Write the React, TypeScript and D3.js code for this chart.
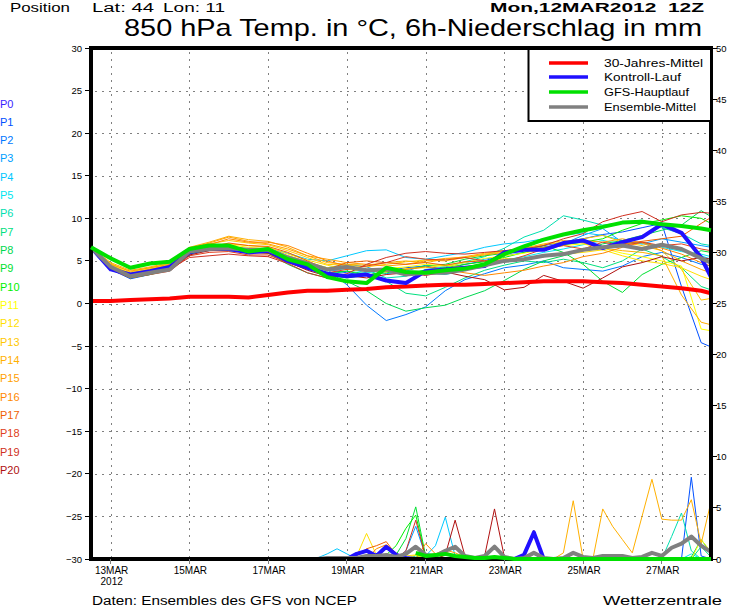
import React from 'react';
import * as d3 from 'd3';

// ---------- time base ----------
const RUN_START = Date.UTC(2012, 2, 12, 12); // Mon 12MAR2012 12Z
const HOUR = 3600 * 1000;
const LAST_HOUR = 378;

// ---------- categories ----------
const tempHours = [0, 12, 24, 36, 48, 60, 72, 84, 96, 108, 120, 132, 144, 156, 168, 180, 192, 204, 216, 228, 240, 252, 264, 276, 288, 300, 312, 324, 336, 348, 360, 372, 378];
const precipHours = [138, 144, 150, 156, 162, 168, 174, 180, 186, 192, 198, 204, 210, 216, 222, 228, 234, 240, 246, 252, 258, 264, 270, 276, 282, 288, 294, 300, 306, 312, 318, 324, 330, 336, 342, 348, 354, 360, 366, 372, 378];
const dayTickDates = [13, 15, 17, 19, 21, 23, 25, 27];
const dayTickLabels = ['13MAR', '15MAR', '17MAR', '19MAR', '21MAR', '23MAR', '25MAR', '27MAR'];
const tempTicks = [-30, -25, -20, -15, -10, -5, 0, 5, 10, 15, 20, 25, 30];
const precipTicks = [0, 5, 10, 15, 20, 25, 30, 35, 40, 45, 50];

const memberNames = ['P0', 'P1', 'P2', 'P3', 'P4', 'P5', 'P6', 'P7', 'P8', 'P9', 'P10', 'P11', 'P12', 'P13', 'P14', 'P15', 'P16', 'P17', 'P18', 'P19', 'P20'];
const memberColors = ['#3a1eff', '#0050ff', '#0078ff', '#00a0ff', '#00c8ff', '#00e6f0', '#00e0b0', '#00e080', '#00d850', '#00e030', '#00f000', '#ffff00', '#ffe000', '#ffc800', '#ffb000', '#ffa000', '#ff8800', '#f06000', '#e04020', '#d03020', '#b01010'];

// ---------- thick series (temperature, °C) ----------
const climate = [0.3, 0.3, 0.4, 0.5, 0.6, 0.8, 0.8, 0.8, 0.7, 1.0, 1.3, 1.5, 1.5, 1.6, 1.7, 1.9, 2.0, 2.1, 2.2, 2.2, 2.3, 2.4, 2.5, 2.6, 2.6, 2.6, 2.5, 2.4, 2.2, 2.0, 1.8, 1.5, 1.2];
const control = [6.6, 4.0, 3.4, 3.8, 4.3, 6.0, 6.5, 6.4, 6.0, 6.2, 5.0, 4.2, 3.5, 3.2, 3.4, 2.7, 2.4, 3.8, 4.0, 4.2, 4.4, 6.0, 6.3, 6.3, 7.1, 7.4, 6.5, 7.2, 7.8, 9.3, 8.3, 5.4, 3.1];
const gfsMain = [6.6, 5.3, 4.2, 4.7, 4.9, 6.4, 6.8, 6.8, 6.1, 6.4, 5.2, 4.6, 3.1, 2.6, 2.4, 4.2, 3.7, 3.6, 3.9, 4.1, 4.6, 5.8, 6.7, 7.5, 8.1, 8.6, 9.0, 9.5, 9.6, 9.3, 9.1, 8.8, 8.6];
const ensMean = [6.6, 4.3, 3.2, 3.6, 4.0, 6.1, 6.4, 6.5, 6.3, 6.3, 5.4, 4.7, 4.0, 4.3, 3.9, 4.0, 3.4, 3.6, 3.6, 4.0, 4.5, 5.0, 5.2, 5.6, 5.8, 6.3, 6.6, 6.8, 6.4, 6.9, 6.4, 5.3, 4.8];

// ---------- members (temperature, °C) ----------
const p1 = [6.6, 4.0, 2.9, 3.4, 4.1, 5.8, 6.6, 6.3, 6.0, 6.6, 5.6, 4.9, 4.0, 3.6, 3.3, 3.8, 4.2, 4.4, 4.0, 4.6, 5.0, 5.8, 6.3, 6.8, 7.2, 7.6, 8.1, 8.4, 8.9, 9.4, 2.0, -4.6, -5.1];
const p2 = [6.6, 4.2, 3.0, 3.5, 3.9, 6.1, 6.2, 6.8, 6.1, 6.0, 5.0, 4.5, 4.0, 2.2, -0.2, -2.0, -1.3, -0.4, 1.5, 2.8, 3.5, 4.2, 4.5, 5.0, 4.2, 4.0, 3.8, 4.4, 5.5, 6.0, 5.4, 4.6, 4.4];
const p3 = [6.6, 4.4, 3.3, 3.8, 4.3, 6.2, 6.5, 6.6, 6.2, 6.4, 5.5, 4.8, 4.2, 4.6, 4.3, 3.5, 3.8, 4.5, 4.4, 4.8, 5.2, 5.6, 6.0, 6.6, 7.0, 8.0, 8.8, 7.2, 7.0, 7.6, 7.2, 6.8, 6.6];
const p4 = [6.6, 4.5, 3.4, 3.9, 4.2, 6.3, 6.9, 6.7, 6.4, 6.5, 5.9, 5.2, 5.0, 5.6, 6.2, 6.3, 5.4, 5.2, 5.6, 6.0, 6.6, 7.0, 7.2, 7.6, 8.0, 8.3, 8.0, 7.4, 7.0, 6.8, 6.2, 5.6, 5.2];
const p5 = [6.6, 4.1, 3.1, 3.5, 4.0, 5.9, 6.3, 6.4, 6.2, 6.1, 5.2, 4.6, 3.8, 4.1, 3.6, 3.9, 3.3, 3.6, 3.4, 3.9, 4.5, 5.1, 5.5, 6.0, 6.4, 6.9, 7.4, 7.0, 7.2, 6.6, 6.1, 5.8, 5.5];
const p6 = [6.6, 4.2, 3.3, 3.7, 4.1, 6.0, 6.6, 6.5, 6.4, 6.2, 5.3, 4.4, 3.9, 4.4, 4.0, 3.0, 3.2, 4.0, 4.3, 4.9, 5.5, 6.5, 7.8, 8.6, 10.3, 9.8, 9.2, 9.5, 9.8, 8.9, 8.2, 7.0, 6.8];
const p7 = [6.6, 4.3, 3.2, 3.6, 3.9, 5.8, 6.3, 6.2, 6.0, 6.0, 5.0, 4.3, 3.4, 3.8, 3.5, 2.6, 1.2, 0.9, 1.9, 3.0, 3.9, 4.5, 5.0, 4.8, 5.2, 4.8, 4.2, 5.0, 6.4, 5.5, 4.2, 2.0, 1.6];
const p8 = [6.6, 4.2, 3.1, 3.5, 4.0, 6.0, 6.3, 6.4, 6.1, 5.9, 4.6, 3.6, 3.0, 2.6, 1.5, 0.0, -0.9, -0.5, -0.2, 0.7, 1.5, 2.7, 4.0, 5.0, 5.6, 6.2, 7.0, 7.4, 8.0, 8.6, 9.2, 10.9, 10.2];
const p9 = [6.6, 4.4, 3.3, 3.8, 4.2, 6.1, 6.6, 6.6, 6.2, 6.1, 5.2, 4.5, 3.6, 3.8, 3.3, 3.6, 4.0, 4.4, 4.6, 5.2, 5.6, 5.9, 6.3, 6.8, 6.0, 4.6, 2.6, 1.3, 3.4, 4.6, 5.4, 6.2, 6.0];
const p10 = [6.6, 4.1, 3.0, 3.4, 3.9, 5.9, 6.4, 6.3, 6.1, 6.2, 5.1, 4.2, 3.3, 3.0, 3.3, 3.8, 3.5, 3.9, 4.2, 4.6, 4.9, 5.4, 6.0, 6.6, 6.9, 7.2, 7.6, 8.6, 9.4, 9.8, 10.3, 10.0, 9.4];
const p11 = [6.6, 4.6, 3.5, 4.0, 4.3, 6.3, 6.7, 6.9, 6.6, 6.4, 5.6, 4.9, 4.2, 4.3, 4.0, 4.1, 4.3, 4.6, 4.4, 4.8, 5.3, 5.6, 5.9, 6.4, 6.8, 7.0, 6.5, 5.9, 5.5, 5.0, 4.4, -3.0, -3.2];
const p12 = [6.6, 4.5, 3.6, 4.1, 4.5, 6.4, 6.8, 7.0, 6.8, 6.6, 5.8, 5.1, 4.5, 4.0, 3.8, 3.7, 4.1, 4.2, 4.5, 4.3, 4.7, 5.3, 5.2, 5.5, 5.8, 6.0, 6.3, 5.6, 5.0, 4.7, 4.2, 3.2, 2.8];
const p13 = [6.6, 4.7, 3.7, 4.2, 4.7, 6.5, 7.0, 7.4, 7.1, 6.9, 6.2, 5.4, 4.6, 4.5, 4.3, 4.6, 4.9, 5.1, 5.0, 5.4, 5.8, 6.1, 6.4, 6.9, 7.2, 7.6, 8.0, 7.2, 6.8, 6.2, 4.0, 0.4, 0.6];
const p14 = [6.6, 4.8, 3.9, 4.3, 4.8, 6.6, 7.2, 7.9, 7.5, 7.3, 6.6, 5.6, 4.8, 4.6, 4.5, 4.8, 5.0, 4.8, 5.2, 5.5, 5.9, 6.2, 6.5, 7.0, 7.4, 7.1, 6.5, 6.2, 6.0, 5.6, 1.0, -2.2, -2.5];
const p15 = [6.6, 4.6, 3.8, 4.2, 4.6, 6.5, 7.1, 7.8, 7.3, 7.0, 6.4, 5.6, 5.2, 4.8, 4.6, 4.4, 4.6, 5.0, 5.3, 5.4, 5.7, 6.0, 6.3, 6.6, 7.0, 7.4, 7.2, 7.6, 7.1, 6.2, 5.0, 4.0, 3.6];
const p16 = [6.6, 4.4, 3.5, 4.0, 4.5, 6.2, 6.9, 7.6, 7.2, 7.2, 6.8, 5.9, 5.0, 4.4, 4.0, 3.8, 4.0, 4.3, 4.0, 3.6, 3.3, 3.6, 3.9, 4.4, 4.8, 5.5, 5.9, 6.6, 7.2, 6.5, 5.8, 4.8, 4.4];
const p17 = [6.6, 4.3, 3.3, 3.8, 4.4, 6.1, 6.6, 7.1, 6.8, 6.7, 6.0, 5.0, 4.0, 4.8, 5.0, 4.8, 4.6, 4.8, 4.5, 4.9, 5.0, 5.1, 5.2, 5.5, 5.9, 6.2, 6.5, 7.0, 7.3, 7.6, 7.9, 9.4, 10.1];
const p18 = [6.6, 4.0, 3.0, 3.4, 3.8, 5.6, 6.0, 6.1, 5.7, 5.7, 4.8, 4.0, 3.6, 4.0, 4.4, 4.8, 5.5, 5.2, 5.1, 5.4, 5.0, 4.9, 5.6, 6.4, 6.8, 6.4, 7.2, 6.8, 7.2, 6.8, 7.0, 6.4, 6.2];
const p19 = [6.6, 4.1, 3.2, 3.6, 4.0, 5.4, 5.6, 5.8, 5.6, 5.5, 4.7, 3.6, 3.0, 3.5, 4.6, 5.4, 5.9, 6.1, 5.9, 5.8, 6.0, 6.2, 6.4, 6.8, 7.6, 8.2, 9.6, 10.3, 10.8, 9.6, 10.4, 10.7, 10.6];
const p20 = [6.6, 4.2, 3.1, 3.5, 3.9, 5.7, 6.2, 6.3, 6.0, 5.9, 4.9, 3.9, 3.2, 3.3, 3.0, 3.4, 3.6, 3.3, 3.7, 3.2, 2.8, 1.6, 1.9, 3.3, 2.6, 1.8, 3.0, 4.3, 4.8, 5.5, 5.0, 5.4, 5.2];
const memberTemps = [control, p1, p2, p3, p4, p5, p6, p7, p8, p9, p10, p11, p12, p13, p14, p15, p16, p17, p18, p19, p20];

// ---------- 6h precipitation (mm), from 18MAR 06Z ----------
const rControl = [0, 0, 0, 0, 0.5, 0.8, 0.3, 1.2, 0.4, 0.1, 0, 0, 0, 0, 0, 0, 0, 0, 0, 0, 0, 0.4, 2.6, 0, 0, 0, 0, 0, 0, 0, 0, 0, 0, 0, 0, 0, 0, 0, 0, 0, 0];
const rMean = [0, 0.1, 0.1, 0.1, 0.1, 0.3, 0.3, 0.4, 0.2, 0.5, 1.2, 0.4, 0.3, 0.8, 1.2, 0.3, 0.1, 0.3, 1.2, 0.2, 0, 0.1, 0.6, 0.1, 0, 0.1, 0.6, 0.2, 0.1, 0.3, 0.3, 0.3, 0.1, 0.2, 0.6, 0.3, 1.1, 1.5, 2.2, 1.3, 0.7];
const rGfs = [null, null, null, null, null, null, null, null, null, null, 0.6, 0.3, 0.4, 0.5, 0.3, 0.2, 0.1, 0.1, 0.2, 0.1, 0, 0, 0, 0, 0, 0, 0, 0, 0, 0, 0, 0, 0, 0, 0, 0, 0, 0, 0, 0, 0];
const r1 = [0, 0, 0, 0, 0, 0, 0, 0, 0, 0, 0, 0, 0, 0, 0, 0, 0, 0, 0, 0, 0, 0, 0, 0, 0, 0, 0, 0, 0, 0, 0, 0, 0, 0, 0, 0, 0, 0, 8.0, 0.3, 0];
const r2 = [0, 0, 0, 0, 0, 0, 0, 0, 0.3, 0, 0, 0, 0, 0, 0, 0, 0, 0, 0, 0, 0, 0, 0, 0, 0, 0, 0, 0, 0, 0, 0, 0, 0, 0, 0, 0, 0, 0, 0, 0, 0];
const r3 = [0, 0, 0, 0, 0, 0, 0, 0, 0, 0.8, 3.2, 0.3, 0, 0, 0, 0, 0, 0, 0, 0, 0, 0, 0, 0, 0, 0, 0, 0, 0, 0, 0, 0, 0, 0, 0, 0, 0, 0, 0, 0, 0];
const r4 = [0.1, 0.5, 1.0, 0.5, 0, 0, 0, 0, 0, 0, 0, 0.3, 1.3, 4.1, 0.3, 0, 0, 0, 0, 0, 0, 0, 0, 0, 0, 0, 0, 0, 0, 0, 0, 0, 0, 0, 0, 0, 0, 0, 0, 0, 0];
const r5 = [0, 0, 0, 0, 0, 0, 0, 0, 0, 0, 0, 0, 0, 0, 0, 0, 0, 0, 0, 0, 0, 0, 0, 0, 0, 0, 0, 0, 0, 0, 0, 0, 0, 0, 0, 0, 0, 0, 0.5, 0, 0];
const r6 = [0, 0, 0, 0, 0, 0, 0, 0, 0, 0, 0, 0, 0, 0, 0, 0, 0, 0, 0, 0, 0, 0, 0, 0, 0, 0, 0, 0, 0, 0, 0, 0, 0, 0, 0, 0, 2.2, 4.5, 0.8, 0, 0];
const r7 = [0, 0, 0, 0, 0, 0, 0, 0, 0, 0, 0.3, 0, 0, 0, 0, 0, 0, 0, 0, 0, 0, 0, 0, 0, 0, 0, 0, 0, 0, 0, 0, 0, 0, 0, 0, 0, 0, 0, 0, 1.2, 0.2];
const r8 = [0, 0, 0, 0, 0, 0, 0, 0, 0, 0, 0, 0, 0, 0, 0, 0, 0, 0, 0, 0, 0, 0, 0, 0, 0, 0, 0, 0, 0, 0, 0, 0, 0, 0, 0, 0, 0, 0, 0.2, 1.9, 0.6];
const r9 = [0, 0, 0, 0, 0, 0, 0, 0, 0.4, 2.0, 5.1, 0.3, 0, 0, 0, 0, 0, 0, 0, 0, 0, 0, 0, 0, 0, 0, 0, 0, 0, 0, 0, 0, 0, 0, 0, 0, 0, 0, 0, 0, 0];
const r10 = [0, 0, 0, 0, 0, 0, 0, 0.4, 1.3, 3.0, 4.3, 0.2, 0, 0, 0, 0, 0, 0, 0, 0, 0, 0, 0, 0, 0, 0, 0, 0, 0, 0, 0, 0, 0, 0, 0, 0, 0, 0, 0, 0, 0];
const r11 = [0, 0, 0, 0, 0, 0, 0, 0, 0, 0, 0.4, 0.2, 0, 0, 0, 0, 0, 0, 0, 0, 0, 0, 0, 0, 0, 0, 0, 0, 0, 0, 0, 0, 0, 0, 0, 0, 0, 0, 0, 1.9, 0.7];
const r12 = [0, 0, 0, 0, 0.3, 2.5, 0.4, 0.2, 0, 0.3, 0.4, 0, 0, 0, 0, 0, 0, 0, 0, 0, 0, 0, 0, 0, 0, 0, 0, 0, 0, 0, 0, 0, 0, 0, 0, 0, 0, 0, 0, 0, 0];
const r13 = [0, 0, 0, 0, 0, 0, 0, 0, 0, 0, 0, 0, 0, 0, 0, 0, 0, 0, 0, 0, 0, 0, 0, 0, 0, 0, 0, 0, 0, 0, 0, 0, 0, 0, 0, 0, 0, 0, 0, 0, 0];
const r14 = [0, 0, 0, 0, 0, 0, 0, 0, 0, 0, 0, 0, 0, 0, 0, 0, 0, 0, 0, 0, 0, 0, 0, 0, 0, 0.6, 5.7, 0, 0, 4.9, 3.2, 1.9, 0.6, 4.2, 7.8, 3.9, 3.8, 3.8, 5.8, 1.5, 5.6];
const r15 = [0, 0, 0, 0, 0, 0, 0, 0, 0, 0, 0, 0, 0.5, 0.9, 0.6, 0.2, 0, 0, 0, 0, 0, 0, 0, 0, 0, 0, 0, 0, 0, 0, 0, 0, 0, 0, 0, 0, 0, 0, 0, 0, 0];
const r16 = [0, 0, 0, 0, 0, 0, 1.0, 1.4, 0.6, 0, 0, 1.5, 0.5, 0.7, 0.3, 0, 0, 0, 0, 0, 0, 0, 0, 0, 0, 0, 0, 0, 0, 0, 0, 0, 0, 0, 0, 0, 0, 0, 0, 0, 0];
const r17 = [0, 0, 0, 0, 0.3, 1.0, 1.3, 1.7, 0.4, 0, 0, 0, 0, 0, 0, 0, 0, 0, 0, 0, 0, 0, 0, 0, 0, 0, 0, 0, 0, 0, 0, 0, 0, 0, 0, 0, 0, 0, 0, 0, 0];
const r18 = [0, 0, 0, 0, 0, 0, 0, 0, 0, 0, 0, 0, 0, 0.4, 0.3, 0, 0, 0, 0, 0, 0, 0, 0, 0, 0, 0, 0, 0, 0, 0, 0, 0, 0, 0, 0, 0, 0, 0, 0, 0, 0];
const r19 = [0, 0, 0, 0, 0, 0, 0, 0, 0, 0.8, 3.8, 0.2, 0, 0, 0, 0, 0, 0, 0, 0, 0, 0, 0, 0, 0, 0, 0, 0, 0, 0, 0, 0, 0, 0, 0, 0, 0, 0, 0, 0, 0];
const r20 = [0, 0, 0, 0, 0, 0, 0, 0, 0, 0, 0, 0, 0, 0.4, 3.8, 0.3, 0, 0.3, 4.9, 0.2, 0, 0.3, 2.8, 0.1, 0, 0, 0, 0, 0, 0, 0, 0, 0, 0, 0, 0, 0, 0, 0, 0, 0];
const memberPrecip = [rControl, r1, r2, r3, r4, r5, r6, r7, r8, r9, r10, r11, r12, r13, r14, r15, r16, r17, r18, r19, r20];

const legendLabels = ['30-Jahres-Mittel', 'Kontroll-Lauf', 'GFS-Hauptlauf', 'Ensemble-Mittel'];
const legendColors = ['#ff0000', '#2010ff', '#00e000', '#808080'];
const legendWidths = [99, 77, 85, 92];

const FONT = "'Liberation Sans', Arial, Helvetica, sans-serif";

export default function App() {
  const W = 730, H = 609;
  const L = 91, R = 711, T = 48, B = 559;

  const atHour = (h: number) => new Date(RUN_START + h * HOUR);
  const x = d3.scaleTime().domain([atHour(0), atHour(LAST_HOUR)]).range([L, R]);
  const yT = d3.scaleLinear().domain([-30, 30]).range([B, T]);
  const yP = d3.scaleLinear().domain([0, 50]).range([B, T]);

  const tempLine = d3.line<number>()
    .x((_, i) => x(atHour(tempHours[i])))
    .y((d) => yT(d));
  const precipLine = d3.line<number | null>()
    .defined((d) => d !== null)
    .x((_, i) => x(atHour(precipHours[i])))
    .y((d) => yP(d as number));

  const fmt = d3.format('d');
  const dayX = (d: number) => x(new Date(Date.UTC(2012, 2, d, 0)));

  return (
    <svg width={W} height={H} viewBox={`0 0 ${W} ${H}`}
      style={{ position: 'absolute', left: 0, top: 0, background: '#fff', fontFamily: FONT }}>
      <rect x={0} y={0} width={W} height={H} fill="#fff" />

      {/* grid */}
      <g stroke="#808080" strokeWidth={1} strokeDasharray="2,5" shapeRendering="crispEdges">
        {tempTicks.filter((v) => v > -30 && v < 30).map((v) => (
          <line key={'h' + v} x1={L + 4} x2={R} y1={Math.round(yT(v)) + 0.5} y2={Math.round(yT(v)) + 0.5} />
        ))}
        {dayTickDates.map((d) => (
          <line key={'v' + d} x1={Math.round(dayX(d)) + 0.5} x2={Math.round(dayX(d)) + 0.5} y1={T + 4} y2={B} />
        ))}
      </g>

      {/* ensemble members */}
      <g fill="none" strokeWidth={1}>
        {memberTemps.map((s, i) => (
          <path key={'mt' + i} d={tempLine(s) || ''} stroke={memberColors[i]} />
        ))}
        {memberPrecip.map((s, i) => (
          <path key={'mp' + i} d={precipLine(s) || ''} stroke={memberColors[i]} />
        ))}
      </g>

      {/* thick lines */}
      <g fill="none" strokeWidth={4} strokeLinejoin="round">
        <path d={tempLine(climate) || ''} stroke="#ff0000" />
        <path d={tempLine(control) || ''} stroke="#2010ff" />
        <path d={precipLine(rControl) || ''} stroke="#2010ff" />
        <path d={tempLine(ensMean) || ''} stroke="#808080" />
        <path d={precipLine(rMean) || ''} stroke="#808080" />
      </g>

      {/* frame and ticks */}
      <g stroke="#000" shapeRendering="crispEdges">
        <rect x={L} y={T} width={R - L} height={B - T} fill="none" strokeWidth={3.5} />
        {tempTicks.map((v) => (
          <line key={'lt' + v} x1={L - 6} x2={L} y1={yT(v)} y2={yT(v)} strokeWidth={1} />
        ))}
        {precipTicks.map((v) => (
          <line key={'rt' + v} x1={R} x2={R + 6} y1={yP(v)} y2={yP(v)} strokeWidth={1} />
        ))}
        {dayTickDates.map((d) => (
          <line key={'bt' + d} x1={dayX(d)} x2={dayX(d)} y1={B} y2={B + 5} strokeWidth={1} stroke="#808080" />
        ))}
      </g>

      {/* operational run on top */}
      <g fill="none" strokeWidth={4} strokeLinejoin="round">
        <path d={tempLine(gfsMain) || ''} stroke="#00e000" />
        <path d={precipLine(rGfs) || ''} stroke="#00e000" />
      </g>

      {/* legend */}
      <g>
        <rect x={528.5} y={49} width={R - 528.5} height={72} fill="#fff" stroke="#000" strokeWidth={2} />
        {legendLabels.map((lab, i) => {
          const ly = [63, 77, 92, 107][i];
          return (
            <g key={lab}>
              <line x1={549} x2={588} y1={ly} y2={ly} stroke={legendColors[i]} strokeWidth={3.5} />
              <text x={604} y={ly + 4} fontSize={11} textLength={legendWidths[i]} lengthAdjust="spacingAndGlyphs" fill="#000">{lab}</text>
            </g>
          );
        })}
      </g>

      {/* left axis labels */}
      <g fontSize={9.5} fill="#000" textAnchor="end">
        {tempTicks.map((v) => (
          <text key={'ll' + v} x={82} y={yT(v) + 3.5}>{fmt(v)}</text>
        ))}
      </g>
      {/* right axis labels */}
      <g fontSize={9.5} fill="#000" textAnchor="start">
        {precipTicks.map((v) => (
          <text key={'rl' + v} x={716} y={yP(v) + 3.5}>{fmt(v)}</text>
        ))}
      </g>
      {/* date labels */}
      <g fontSize={10} fill="#000" textAnchor="middle">
        {dayTickLabels.map((lab, i) => (
          <text key={lab} x={dayX(dayTickDates[i]) + 1} y={574}>{lab}</text>
        ))}
        <text x={dayX(13) + 1} y={585}>2012</text>
      </g>

      {/* member labels */}
      <g fontSize={11}>
        {memberNames.map((n, i) => (
          <text key={n} x={0} y={107.5 + i * 18.33} fill={memberColors[i]}>{n}</text>
        ))}
      </g>

      {/* header */}
      <g fill="#000">
        <text x={10} y={12} fontSize={12.5} textLength={60} lengthAdjust="spacingAndGlyphs">Position</text>
        <text x={92} y={12} fontSize={12.5} textLength={62} lengthAdjust="spacingAndGlyphs">Lat: 44</text>
        <text x={163} y={12} fontSize={12.5} textLength={62} lengthAdjust="spacingAndGlyphs">Lon: 11</text>
        <text x={490} y={12} fontSize={13} fontWeight="bold" textLength={214} lengthAdjust="spacingAndGlyphs" style={{ whiteSpace: 'pre' }}>Mon,12MAR2012  12Z</text>
        <text x={124} y={36} fontSize={24} textLength={578} lengthAdjust="spacingAndGlyphs">850 hPa Temp. in °C, 6h-Niederschlag in mm</text>
        <text x={92} y={605} fontSize={12.5} textLength={265} lengthAdjust="spacingAndGlyphs">Daten: Ensembles des GFS von NCEP</text>
        <text x={603} y={605} fontSize={13.5} textLength={119} lengthAdjust="spacingAndGlyphs">Wetterzentrale</text>
      </g>
    </svg>
  );
}
